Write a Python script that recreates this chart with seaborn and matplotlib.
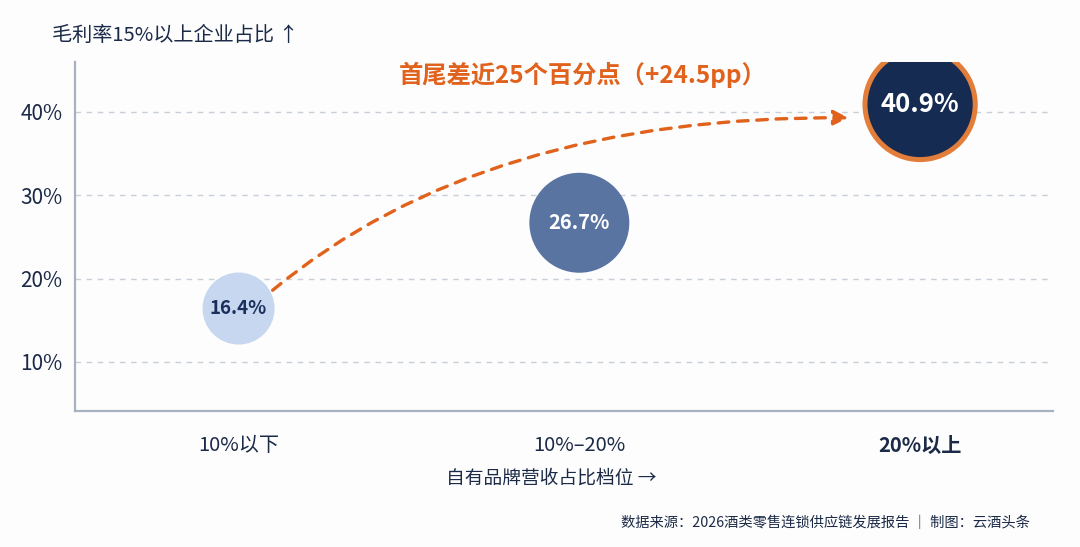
import numpy as np
import matplotlib
matplotlib.use("Agg")
import matplotlib.pyplot as plt
from matplotlib.patches import FancyArrowPatch
from matplotlib.path import Path
import pandas as pd
import seaborn as sns

# data
tiers = ["10%以下", "10%–20%", "20%以上"]
share = [16.4, 26.7, 40.9]
value_labels = ["16.4%", "26.7%", "40.9%"]
y_ticks = [10, 20, 30, 40]
y_tick_labels = ["10%", "20%", "30%", "40%"]

title_note = "首尾差近25个百分点（+24.5pp）"
y_title = "毛利率15%以上企业占比 ↑"
x_title = "自有品牌营收占比档位 →"
source = "数据来源：2026酒类零售连锁供应链发展报告 ｜ 制图：云酒头条"

# colours / styles
fill_colors = ["#c7d7ef", "#5a74a1", "#162b52"]
text_colors = ["#1a2f5c", "#ffffff", "#ffffff"]
bubble_area = [2690, 5180, 6300]
edge_colors = ["none", "none", "#e27d3a"]
edge_widths = [0, 0, 3.6]
label_sizes = [13.5, 14.5, 18.5]
orange = "#e0621c"
navy = "#1b2a47"

sns.set_theme(style="white")
plt.rcParams["font.family"] = ["Noto Sans CJK SC", "DejaVu Sans"]

df = pd.DataFrame({"pos": np.arange(len(tiers)), "share": share, "tier": tiers})

fig = plt.figure(figsize=(10.8, 5.47), dpi=100)
fig.patch.set_facecolor("#fdfdfd")
ax = fig.add_axes([75 / 1080, 1 - 411 / 547, (1053 - 75) / 1080, (411 - 62) / 547])
ax.set_facecolor("#fdfdfd")

# grid lines first
for yt in y_ticks:
    ax.axhline(yt, color="#c9cfd9", lw=1.0, ls=(0, (4, 4)), zorder=1, xmax=0.995)

sns.scatterplot(data=df, x="pos", y="share", hue="tier",
                palette=dict(zip(tiers, fill_colors)),
                size="tier", sizes=dict(zip(tiers, bubble_area)),
                edgecolor=edge_colors, linewidth=edge_widths,
                legend=False, zorder=3, ax=ax)

for i, row in df.iterrows():
    ax.text(row["pos"], row["share"], value_labels[i], ha="center", va="center",
            color=text_colors[i], fontsize=label_sizes[i], fontweight="bold", zorder=4)

# dashed curved arrow from first bubble towards the last
x0, y0 = df["pos"].iloc[0] + 0.10, df["share"].iloc[0] + 2.2
x1, y1 = df["pos"].iloc[-1] - 0.21, df["share"].iloc[-1] - 1.6
ctrl = (x0 + 0.62, y1 + 0.3)
curve = Path([(x0, y0), ctrl, (x1, y1)], [Path.MOVETO, Path.CURVE3, Path.CURVE3])
arrow = FancyArrowPatch(path=curve, arrowstyle="-|>", mutation_scale=22,
                        color=orange, lw=2.4, ls=(0, (3.2, 2.6)), zorder=2)
ax.add_patch(arrow)

ax.text(1.01, 44.4, title_note, ha="center", va="center", color=orange,
        fontsize=17.5, fontweight="bold")

ax.set_xlim(-0.48, 2.39)
ax.set_ylim(4.1, 46.0)
ax.set_yticks(y_ticks)
ax.set_yticklabels(y_tick_labels, fontsize=15, color=navy)
ax.set_xticks(df["pos"])
ax.set_xticklabels(tiers, fontsize=14.5, color=navy)
ax.get_xticklabels()[-1].set_fontweight("bold")
ax.tick_params(axis="y", length=0, pad=9)
ax.tick_params(axis="x", length=0, pad=17)
ax.set_xlabel("")
ax.set_ylabel("")

sns.despine(ax=ax, top=True, right=True)
for side in ["left", "bottom"]:
    ax.spines[side].set_color("#a8b1c0")
    ax.spines[side].set_linewidth(1.6)

fig.text(52 / 1080, 1 - 35 / 547, y_title, ha="left", va="center", fontsize=14.5, color=navy)
fig.text(551 / 1080, 1 - 478 / 547, x_title, ha="center", va="center", fontsize=13.5, color=navy)
fig.text(1030 / 1080, 1 - 523 / 547, source, ha="right", va="center", fontsize=10.3, color=navy)

fig.savefig("out.png", dpi=100, facecolor=fig.get_facecolor())
